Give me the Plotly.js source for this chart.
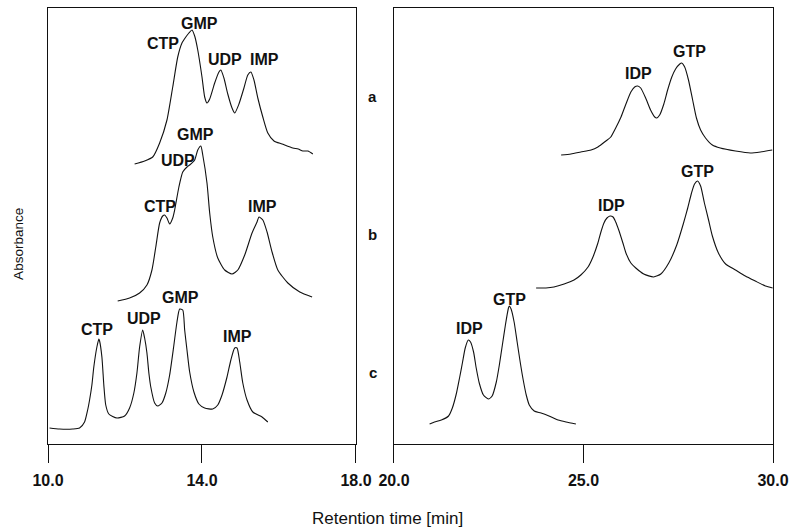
<!DOCTYPE html>
<html>
<head>
<meta charset="utf-8">
<script src="https://cdn.plot.ly/plotly-3.0.1.min.js"></script>
<style>html,body{margin:0;padding:0;background:#fff;}#chart{width:790px;height:529px;}</style>
</head>
<body>
<div id="chart"></div>
<script>
// ---- Left panel (10–18 min): nucleotide monophosphates ----
const timeA1 = [12.25,12.51,12.72,12.90,13.09,13.24,13.37,13.48,13.58,13.66,13.74,13.81,13.89,14.00,14.07,14.13,14.20,14.33,14.44,14.49,14.57,14.67,14.78,14.85,14.96,15.09,15.19,15.27,15.35,15.45,15.58,15.71,15.87,16.08,16.36,16.50,16.62,16.75,16.88];
const absA1  = [2.80,2.83,2.87,3.01,3.24,3.57,3.87,4.01,4.07,4.11,4.14,4.08,3.94,3.67,3.47,3.41,3.45,3.61,3.72,3.74,3.66,3.50,3.36,3.31,3.40,3.56,3.69,3.72,3.64,3.46,3.27,3.11,3.03,3.00,2.96,2.95,2.93,2.93,2.90];

const timeB1 = [11.81,12.12,12.38,12.57,12.70,12.80,12.90,12.98,13.03,13.09,13.16,13.24,13.29,13.40,13.50,13.61,13.68,13.81,13.89,13.97,14.02,14.13,14.20,14.28,14.41,14.59,14.78,14.93,15.11,15.30,15.43,15.48,15.58,15.69,15.82,15.97,16.23,16.54,16.86];
const absB1  = [1.43,1.46,1.51,1.59,1.74,1.97,2.21,2.28,2.29,2.26,2.20,2.26,2.34,2.57,2.72,2.77,2.79,2.84,2.94,2.98,2.89,2.61,2.31,2.07,1.86,1.74,1.70,1.74,1.89,2.11,2.22,2.27,2.24,2.12,1.92,1.74,1.61,1.52,1.47];

const timeC1 = [10.04,10.30,10.64,10.82,10.95,11.03,11.08,11.14,11.19,11.27,11.32,11.34,11.40,11.45,11.50,11.58,11.79,11.99,12.12,12.23,12.31,12.38,12.46,12.51,12.57,12.62,12.67,12.77,12.85,12.96,13.06,13.16,13.27,13.35,13.42,13.50,13.55,13.61,13.68,13.79,13.92,14.07,14.28,14.41,14.52,14.65,14.75,14.85,14.91,14.98,15.06,15.17,15.32,15.56,15.71];
const absC1  = [0.16,0.15,0.15,0.16,0.22,0.34,0.44,0.59,0.77,0.97,1.05,1.03,0.87,0.59,0.39,0.30,0.26,0.28,0.36,0.51,0.71,0.97,1.14,1.06,0.91,0.71,0.57,0.41,0.38,0.41,0.51,0.69,0.99,1.22,1.35,1.34,1.14,0.94,0.72,0.52,0.40,0.36,0.35,0.39,0.49,0.67,0.84,0.96,0.96,0.82,0.61,0.44,0.32,0.27,0.22];

// ---- Right panel (20–30 min): IDP / GTP ----
const timeA2 = [24.41,24.67,24.93,25.20,25.38,25.59,25.72,25.85,25.99,26.12,26.25,26.35,26.43,26.51,26.64,26.77,26.88,26.93,27.01,27.12,27.22,27.33,27.43,27.54,27.59,27.67,27.77,27.88,27.98,28.09,28.22,28.40,28.61,29.01,29.40,29.67,29.98];
const absA2  = [2.89,2.90,2.92,2.94,2.97,3.03,3.07,3.16,3.27,3.40,3.52,3.57,3.58,3.56,3.46,3.34,3.27,3.26,3.29,3.40,3.54,3.67,3.75,3.80,3.81,3.77,3.64,3.44,3.26,3.14,3.06,2.99,2.96,2.93,2.91,2.92,2.94];

const timeB2 = [23.75,24.01,24.22,24.49,24.75,24.93,25.12,25.25,25.38,25.46,25.54,25.62,25.70,25.78,25.85,25.93,26.04,26.12,26.25,26.38,26.59,26.85,27.04,27.25,27.46,27.64,27.75,27.85,27.93,28.01,28.09,28.19,28.30,28.40,28.56,28.75,29.01,29.27,29.53,29.80,29.99];
const absB2  = [1.56,1.56,1.57,1.60,1.64,1.69,1.77,1.87,2.01,2.12,2.21,2.26,2.28,2.27,2.22,2.14,2.01,1.91,1.81,1.76,1.70,1.67,1.70,1.81,1.99,2.21,2.36,2.51,2.60,2.63,2.58,2.41,2.24,2.08,1.91,1.80,1.74,1.68,1.63,1.58,1.56];

const timeC2 = [20.94,21.07,21.25,21.44,21.54,21.65,21.73,21.81,21.88,21.96,22.02,22.10,22.17,22.25,22.36,22.49,22.59,22.70,22.78,22.86,22.94,23.02,23.04,23.09,23.17,23.25,23.33,23.41,23.49,23.57,23.70,23.88,24.09,24.33,24.54,24.80];
const absC2  = [0.20,0.22,0.24,0.28,0.36,0.51,0.66,0.82,0.96,1.04,1.02,0.92,0.76,0.61,0.49,0.45,0.48,0.62,0.79,0.99,1.19,1.36,1.38,1.35,1.22,1.02,0.82,0.64,0.49,0.39,0.33,0.31,0.28,0.24,0.22,0.20];

// ---- Peak labels (text, time, absorbance) ----
const peakText1 = ['CTP','GMP','UDP','IMP','GMP','UDP','CTP','IMP','CTP','UDP','GMP','IMP'];
const peakTime1 = [12.98,13.94,14.59,15.63,13.82,13.37,12.91,15.58,11.27,12.49,13.45,14.93];
const peakAbs1  = [4.01,4.21,3.85,3.85,3.10,2.84,2.38,2.38,1.15,1.26,1.47,1.08];
const peakText2 = ['IDP','GTP','IDP','GTP','IDP','GTP'];
const peakTime2 = [26.46,27.80,25.75,28.01,21.99,23.04];
const peakAbs2  = [3.71,3.93,2.39,2.73,1.16,1.45];

const runLabels = ['a','b','c'];

const xTicks1 = [10,14,18];
const xTicks2 = [20,25,30];

const FONT = 'Liberation Sans, Arial, Helvetica, sans-serif';

const traces = [
  {x:timeA1, y:absA1, xaxis:'x', yaxis:'y'},
  {x:timeB1, y:absB1, xaxis:'x', yaxis:'y'},
  {x:timeC1, y:absC1, xaxis:'x', yaxis:'y'},
  {x:timeA2, y:absA2, xaxis:'x2', yaxis:'y2'},
  {x:timeB2, y:absB2, xaxis:'x2', yaxis:'y2'},
  {x:timeC2, y:absC2, xaxis:'x2', yaxis:'y2'}
].map(t => Object.assign(t, {
  type:'scatter', mode:'lines', hoverinfo:'skip', showlegend:false,
  line:{color:'#111', width:1.1, shape:'spline', smoothing:0.6}
}));

const annotations = [];
peakText1.forEach((t,i) => annotations.push({xref:'x', yref:'y', x:peakTime1[i], y:peakAbs1[i], xanchor:'center', yanchor:'middle', text:'<b>'+t+'</b>', showarrow:false, font:{family:FONT, size:16, color:'#111'}}));
peakText2.forEach((t,i) => annotations.push({xref:'x2', yref:'y2', x:peakTime2[i], y:peakAbs2[i], xanchor:'center', yanchor:'middle', text:'<b>'+t+'</b>', showarrow:false, font:{family:FONT, size:16, color:'#111'}}));
const runY = [0.798, 0.480, 0.165];
runLabels.forEach((t,i) => annotations.push({xref:'paper', yref:'paper', x:0.448, y:runY[i], xanchor:'center', yanchor:'middle', text:'<b>'+t+'</b>', showarrow:false, font:{family:FONT, size:15, color:'#111'}}));
annotations.push({xref:'paper', yref:'paper', x:0.4676, y:-0.170, xanchor:'center', yanchor:'middle', text:'Retention time [min]', showarrow:false, font:{family:FONT, size:17, color:'#111'}});
annotations.push({xref:'paper', yref:'paper', x:-0.040, y:0.459, xanchor:'center', yanchor:'middle', text:'Absorbance', textangle:-90, showarrow:false, font:{family:FONT, size:13.5, color:'#111'}});

const axisX = {
  showline:true, mirror:true, linecolor:'#111', linewidth:1,
  showgrid:false, zeroline:false,
  ticks:'outside', ticklen:18, tickwidth:1, tickcolor:'#111',
  tickformat:'.1f', tickmode:'array',
  tickfont:{family:FONT, size:16, color:'#111', weight:'bold'},
  ticklabelstandoff:4
};
const axisY = {
  showline:true, mirror:true, linecolor:'#111', linewidth:1,
  showgrid:false, zeroline:false, showticklabels:false, ticks:'',
  range:[0,4.36]
};

const layout = {
  width:790, height:529,
  margin:{l:48, r:17, t:8, b:85},
  paper_bgcolor:'#fff', plot_bgcolor:'#fff',
  showlegend:false,
  xaxis: Object.assign({}, axisX, {domain:[0,0.4248], range:[10,18], tickvals:xTicks1, anchor:'y'}),
  xaxis2: Object.assign({}, axisX, {domain:[0.4772,1], range:[20,30], tickvals:xTicks2, anchor:'y2'}),
  yaxis: Object.assign({}, axisY, {anchor:'x'}),
  yaxis2: Object.assign({}, axisY, {anchor:'x2'}),
  annotations: annotations
};

Plotly.newPlot('chart', traces, layout, {staticPlot:true, displayModeBar:false});
</script>
</body>
</html>
